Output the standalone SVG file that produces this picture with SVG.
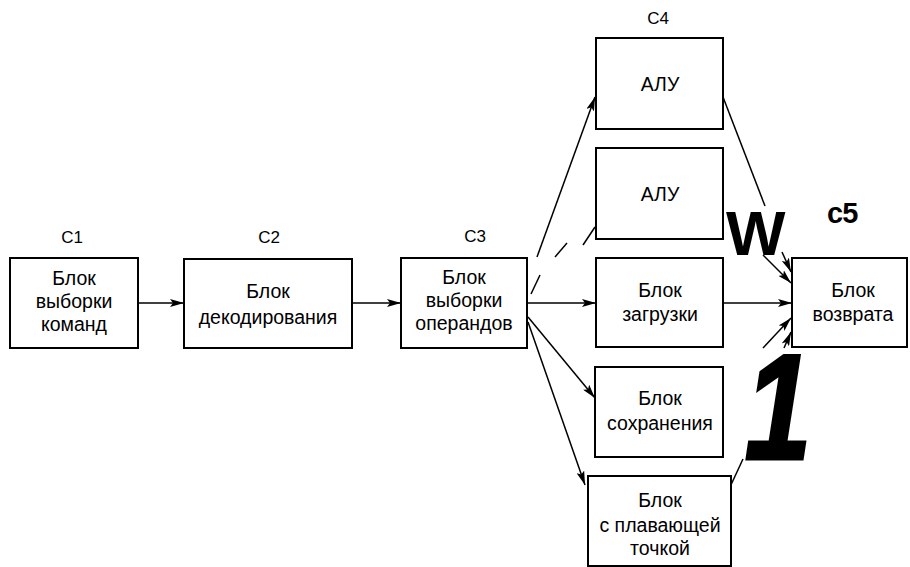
<svg xmlns="http://www.w3.org/2000/svg" width="910" height="567" viewBox="0 0 910 567">
<style>
.box{fill:#fff;stroke:#000;stroke-width:2}
.t{font-family:"Liberation Sans",Arial,sans-serif;font-size:19.5px;fill:#000;text-anchor:middle}
.lbl{font-family:"Liberation Sans",Arial,sans-serif;font-size:17px;fill:#000;text-anchor:middle}
.c{stroke:#000;stroke-width:1.5;fill:none}
.ca{stroke:#000;stroke-width:1.5;fill:none;marker-end:url(#ah)}
</style>
<defs>
<marker id="ah" viewBox="0 0 14 8" refX="14" refY="4" markerWidth="14" markerHeight="8" markerUnits="userSpaceOnUse" orient="auto">
<path d="M0,0 L14,4 L0,8 L3,4 Z" fill="#000"/>
</marker>
</defs>
<rect width="910" height="567" fill="#fff"/>
<g id="labels">
<text class="lbl" x="72" y="243">C1</text>
<text class="lbl" x="269" y="243">C2</text>
<text class="lbl" x="475" y="242">C3</text>
<text class="lbl" x="658" y="24">C4</text>
</g>
<g id="connectors">
<line class="ca" x1="138" y1="303" x2="184" y2="303"/>
<line class="ca" x1="352" y1="303" x2="401" y2="303"/>
<line class="ca" x1="537" y1="257" x2="595" y2="97"/>
<line class="c" x1="531" y1="294" x2="540" y2="275"/>
<line class="c" x1="555" y1="257" x2="567" y2="243"/>
<line class="c" x1="583" y1="245" x2="595" y2="227"/>
<line class="ca" x1="527" y1="303" x2="596" y2="303"/>
<line class="ca" x1="528" y1="317" x2="595" y2="398"/>
<line class="ca" x1="528" y1="322" x2="585" y2="485"/>
<line class="c" x1="723" y1="97" x2="765" y2="206"/>
<line class="ca" x1="763" y1="255" x2="791" y2="283"/>
<line class="ca" x1="782" y1="252" x2="791" y2="272"/>
<line class="ca" x1="723" y1="303" x2="792" y2="303"/>
<line class="ca" x1="763" y1="348" x2="791" y2="318"/>
<line class="ca" x1="784" y1="348" x2="791" y2="332"/>
<line class="c" x1="730" y1="487" x2="743" y2="459"/>
</g>
<g id="c1">
<rect class="box" x="10" y="258" width="128" height="90"/>
<text class="t" x="74" y="285">Блок</text>
<text class="t" x="74" y="308">выборки</text>
<text class="t" x="74" y="331">команд</text>
</g>
<g id="c2">
<rect class="box" x="184" y="259" width="168" height="89"/>
<text class="t" x="268" y="298">Блок</text>
<text class="t" x="268" y="324">декодирования</text>
</g>
<g id="c3">
<rect class="box" x="401" y="258" width="126" height="90"/>
<text class="t" x="464" y="284">Блок</text>
<text class="t" x="464" y="307">выборки</text>
<text class="t" x="464" y="330">операндов</text>
</g>
<g id="alu1">
<rect class="box" x="596" y="38" width="127" height="91"/>
<text class="t" x="660" y="91">АЛУ</text>
</g>
<g id="alu2">
<rect class="box" x="596" y="148" width="127" height="91"/>
<text class="t" x="660" y="201">АЛУ</text>
</g>
<g id="load">
<rect class="box" x="596" y="258" width="127" height="89"/>
<text class="t" x="660" y="297">Блок</text>
<text class="t" x="660" y="321">загрузки</text>
</g>
<g id="store">
<rect class="box" x="595" y="367" width="128" height="90"/>
<text class="t" x="660" y="405">Блок</text>
<text class="t" x="660" y="430">сохранения</text>
</g>
<g id="fpu">
<rect class="box" x="588" y="476" width="143" height="90"/>
<text class="t" x="660" y="507">Блок</text>
<text class="t" x="660" y="532">с плавающей</text>
<text class="t" x="660" y="555">точкой</text>
</g>
<g id="c5">
<rect class="box" x="792" y="258" width="115" height="89"/>
<text class="t" x="853" y="297">Блок</text>
<text class="t" x="853" y="321">возврата</text>
<text x="827" y="223" font-family="Liberation Sans,Arial,sans-serif" font-weight="bold" font-size="29" letter-spacing="-1">c5</text>
</g>
<g id="marks">
<text x="726" y="255" font-family="Liberation Sans,Arial,sans-serif" font-weight="bold" font-size="63">W</text>
<text transform="translate(778,459) scale(0.8,1)" x="0" y="0" text-anchor="middle" font-family="Liberation Sans,Arial,sans-serif" font-weight="bold" font-style="italic" font-size="150" stroke="#000" stroke-width="3">1</text>
</g>
</svg>
